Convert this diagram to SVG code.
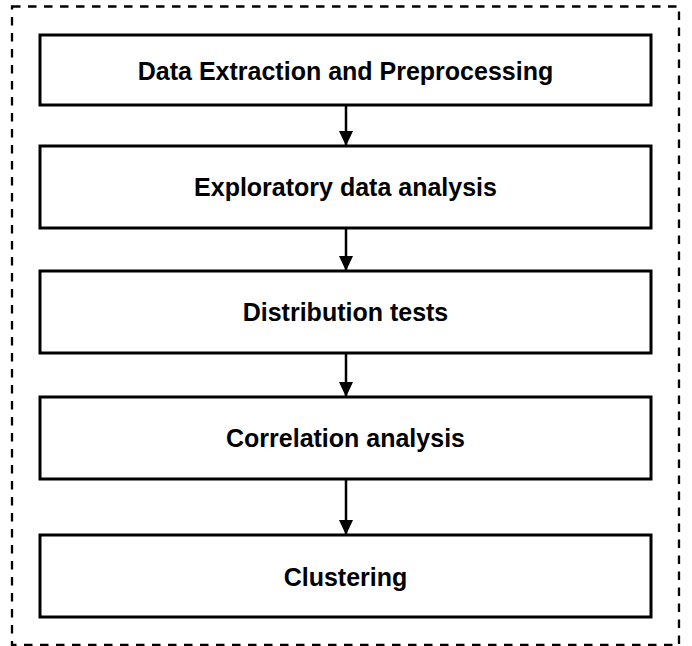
<svg xmlns="http://www.w3.org/2000/svg" width="692" height="646" viewBox="0 0 692 646">
<defs>
<style>
.box{fill:#fff;stroke:#000;stroke-width:3}
.lbl{font-family:"Liberation Sans",Arial,sans-serif;font-weight:bold;font-size:25px;fill:#000;text-anchor:middle;dominant-baseline:central}
.conn{stroke:#000;stroke-width:2.5;fill:none;marker-end:url(#ah)}
</style>
<marker id="ah" markerWidth="15" markerHeight="14" refX="14" refY="7" orient="auto" markerUnits="userSpaceOnUse" viewBox="0 0 15 14">
<path d="M0,0 L15,7 L0,14 Z" fill="#000"/>
</marker>
</defs>
<rect width="692" height="646" fill="#fff"/>
<rect id="frame" x="12" y="6.5" width="667" height="638.5" fill="none" stroke="#000" stroke-width="2.3" stroke-dasharray="8.5,7.5"/>
<g id="connectors">
<line class="conn" x1="346" y1="105" x2="346" y2="145"/>
<line class="conn" x1="346" y1="228" x2="346" y2="270"/>
<line class="conn" x1="346" y1="353" x2="346" y2="396"/>
<line class="conn" x1="346" y1="479" x2="346" y2="534"/>
</g>
<g id="n1"><rect class="box" x="40" y="35" width="611" height="70"/><text class="lbl" x="345.5" y="71">Data Extraction and Preprocessing</text></g>
<g id="n2"><rect class="box" x="40" y="146" width="611" height="82"/><text class="lbl" x="345.5" y="187">Exploratory data analysis</text></g>
<g id="n3"><rect class="box" x="40" y="271" width="611" height="82"/><text class="lbl" x="345.5" y="312">Distribution tests</text></g>
<g id="n4"><rect class="box" x="40" y="397" width="611" height="82"/><text class="lbl" x="345.5" y="438">Correlation analysis</text></g>
<g id="n5"><rect class="box" x="40" y="535" width="611" height="82"/><text class="lbl" x="345.5" y="577">Clustering</text></g>
</svg>
